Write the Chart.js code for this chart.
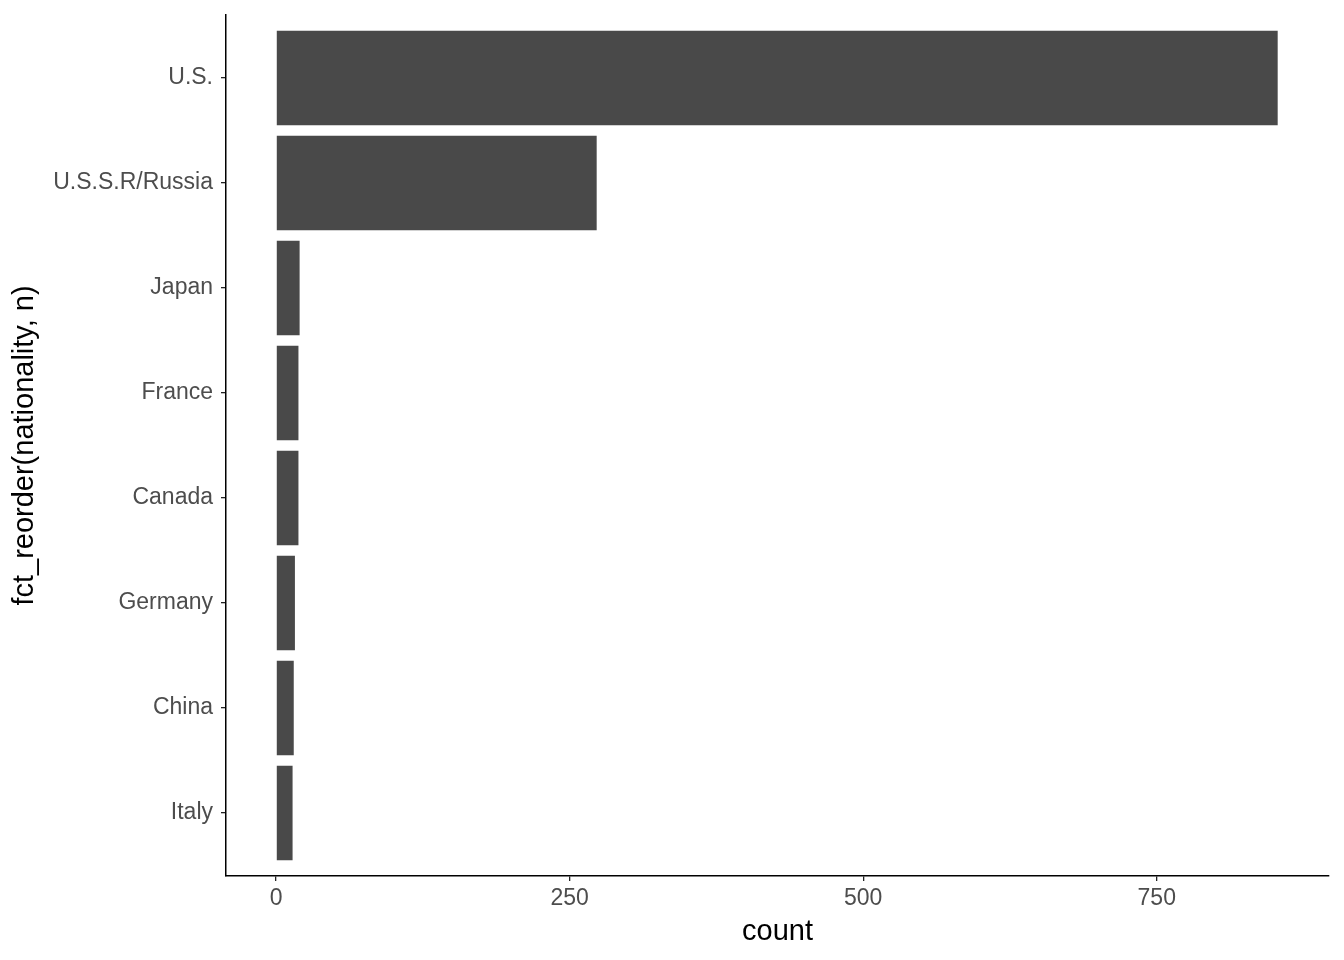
<!DOCTYPE html>
<html>
<head>
<meta charset="utf-8">
<script src="https://cdn.jsdelivr.net/npm/chart.js@4"></script>
<style>
  html, body { margin: 0; padding: 0; background: #fff; }
  #wrap { width: 1344px; height: 960px; }
</style>
</head>
<body>
<div id="wrap"><canvas id="nacChart" width="1344" height="960"></canvas></div>
<script>
// Datos: astronautas por nacionalidad (ordenados de mayor a menor)
const categories = ['U.S.', 'U.S.S.R/Russia', 'Japan', 'France', 'Canada', 'Germany', 'China', 'Italy'];
const counts = [853, 273, 20, 19, 19, 16, 15, 14];
const xTicks = [0, 250, 500, 750];

const puntos = counts.map((v, i) => ({ x: v, y: i }));

const ctx = document.getElementById('nacChart').getContext('2d');

new Chart(ctx, {
    type: 'bar',
    data: {
        datasets: [{
            data: puntos,
            backgroundColor: '#494949',
            borderWidth: 0,
            barPercentage: 0.9,
            categoryPercentage: 1
        }]
    },
    options: {
        indexAxis: 'y',
        responsive: false,
        animation: false,
        layout: { autoPadding: false, padding: { top: 15, right: 15, left: 0, bottom: 0 } },
        plugins: { legend: { display: false }, tooltip: { enabled: false } },
        scales: {
            x: {
                type: 'linear',
                min: -42.7,
                max: 896.7,
                afterBuildTicks: (scale) => { scale.ticks = xTicks.map(v => ({ value: v })); },
                afterFit: (scale) => { scale.height = 84; scale.paddingLeft = 0; scale.paddingRight = 0; },
                border: { display: true, color: '#000', width: 1.5 },
                grid: { drawOnChartArea: false, color: '#222', tickLength: 5, lineWidth: 1.3 },
                ticks: { color: '#4d4d4d', font: { family: 'Liberation Sans', size: 23 }, padding: 4, maxRotation: 0 },
                title: { display: true, text: 'count', color: '#000', font: { family: 'Liberation Sans', size: 29 }, padding: { top: 4, bottom: 11 } }
            },
            y: {
                type: 'linear',
                min: -0.6,
                max: 7.6,
                reverse: true,
                offset: false,
                afterBuildTicks: (scale) => { scale.ticks = categories.map((c, i) => ({ value: i })); },
                afterFit: (scale) => { scale.width = 226; scale.paddingTop = 0; scale.paddingBottom = 0; },
                border: { display: true, color: '#000', width: 1.5 },
                grid: { offset: false, drawOnChartArea: false, color: '#222', tickLength: 5, lineWidth: 1.3 },
                ticks: {
                    color: '#4d4d4d',
                    font: { family: 'Liberation Sans', size: 23 },
                    padding: 8,
                    callback: (v) => categories[v] ?? ''
                },
                title: { display: true, text: 'fct_reorder(nationality, n)', color: '#000', font: { family: 'Liberation Sans', size: 29 }, padding: { top: 8, bottom: 2 } }
            }
        }
    }
});
</script>
</body>
</html>
